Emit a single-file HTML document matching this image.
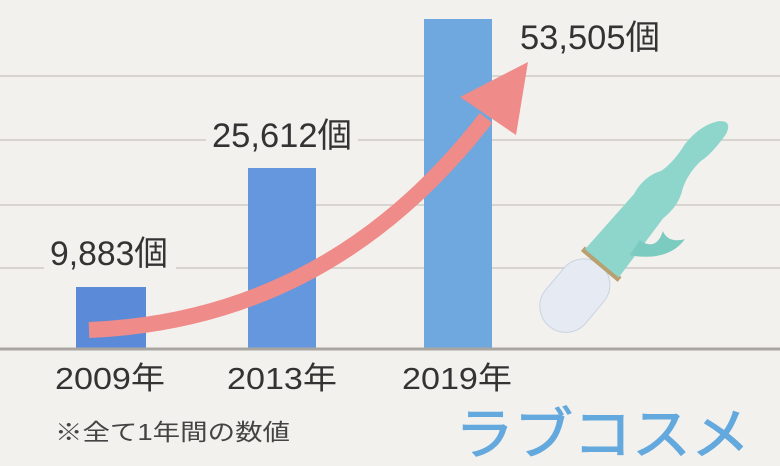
<!DOCTYPE html>
<html><head><meta charset="utf-8"><style>
html,body{margin:0;padding:0;background:#f3f1ee;}
svg{display:block}
text{font-family:"Liberation Sans","Noto Sans CJK JP",sans-serif;}
</style></head><body>
<svg width="780" height="466" viewBox="0 0 780 466" xmlns="http://www.w3.org/2000/svg">
<rect width="780" height="466" fill="#f3f1ee"/>
<g stroke="#cfcbc6" stroke-width="1.5">
<line x1="0" y1="76" x2="780" y2="76"/>
<line x1="0" y1="140" x2="780" y2="140"/>
<line x1="0" y1="205" x2="780" y2="205"/>
<line x1="0" y1="268" x2="780" y2="268"/>
</g>
<rect x="76" y="287" width="70" height="62" fill="#5b8ad9"/>
<rect x="248" y="168" width="68" height="181" fill="#6497dd"/>
<rect x="424" y="19" width="68" height="330" fill="#6ea8de"/>
<line x1="0" y1="349" x2="780" y2="349" stroke="#a9a6a2" stroke-width="3"/>
<rect x="44" y="236" width="132" height="36" fill="#f3f1ee"/>
<rect x="206" y="116" width="152" height="36" fill="#f3f1ee"/>
<g fill="#333" font-size="34">
<text x="50" y="265" textLength="118" lengthAdjust="spacingAndGlyphs">9,883個</text>
<text x="212" y="147" textLength="140" lengthAdjust="spacingAndGlyphs">25,612個</text>
<text x="520" y="49" textLength="140" lengthAdjust="spacingAndGlyphs">53,505個</text>
</g>
<path d="M89 330 Q330 320 486 118" fill="none" stroke="#ef8b88" stroke-width="16"/>
<polygon points="460,97 528,62 516,135" fill="#ef8b88"/>
<g fill="#333" font-size="31">
<text x="55" y="389" textLength="110" lengthAdjust="spacingAndGlyphs">2009年</text>
<text x="227" y="389" textLength="110" lengthAdjust="spacingAndGlyphs">2013年</text>
<text x="402" y="389" textLength="110" lengthAdjust="spacingAndGlyphs">2019年</text>
</g>
<text x="55" y="440" font-size="23" fill="#444" textLength="235" lengthAdjust="spacingAndGlyphs">※全て1年間の数値</text>
<text x="455" y="454" font-size="56" fill="#64a9de" stroke="#64a9de" stroke-width="1" textLength="295" lengthAdjust="spacingAndGlyphs">ラブコスメ</text>
<!-- toy -->
<g transform="translate(598,268) rotate(40)">
<rect x="-26" y="-4" width="52" height="80" rx="26" fill="#e6ebf3" stroke="#c9d3e0"/>
<rect x="-24" y="-8" width="48" height="6" fill="#b8a070"/>
<path d="M-22 -6 L-20 -80 Q-24 -100 -14 -115 Q-10 -130 -13 -150 Q-14 -175 -2 -190 Q8 -200 12 -185 Q14 -160 10 -148 Q8 -130 14 -115 Q22 -100 18 -80 L22 -6 Z" fill="#8ed6cc"/>
<path d="M16 -30 Q50 -50 48 -78 Q38 -64 26 -70 Q34 -50 14 -48 Z" fill="#7ccbc0"/>
</g>
</svg>
</body></html>
